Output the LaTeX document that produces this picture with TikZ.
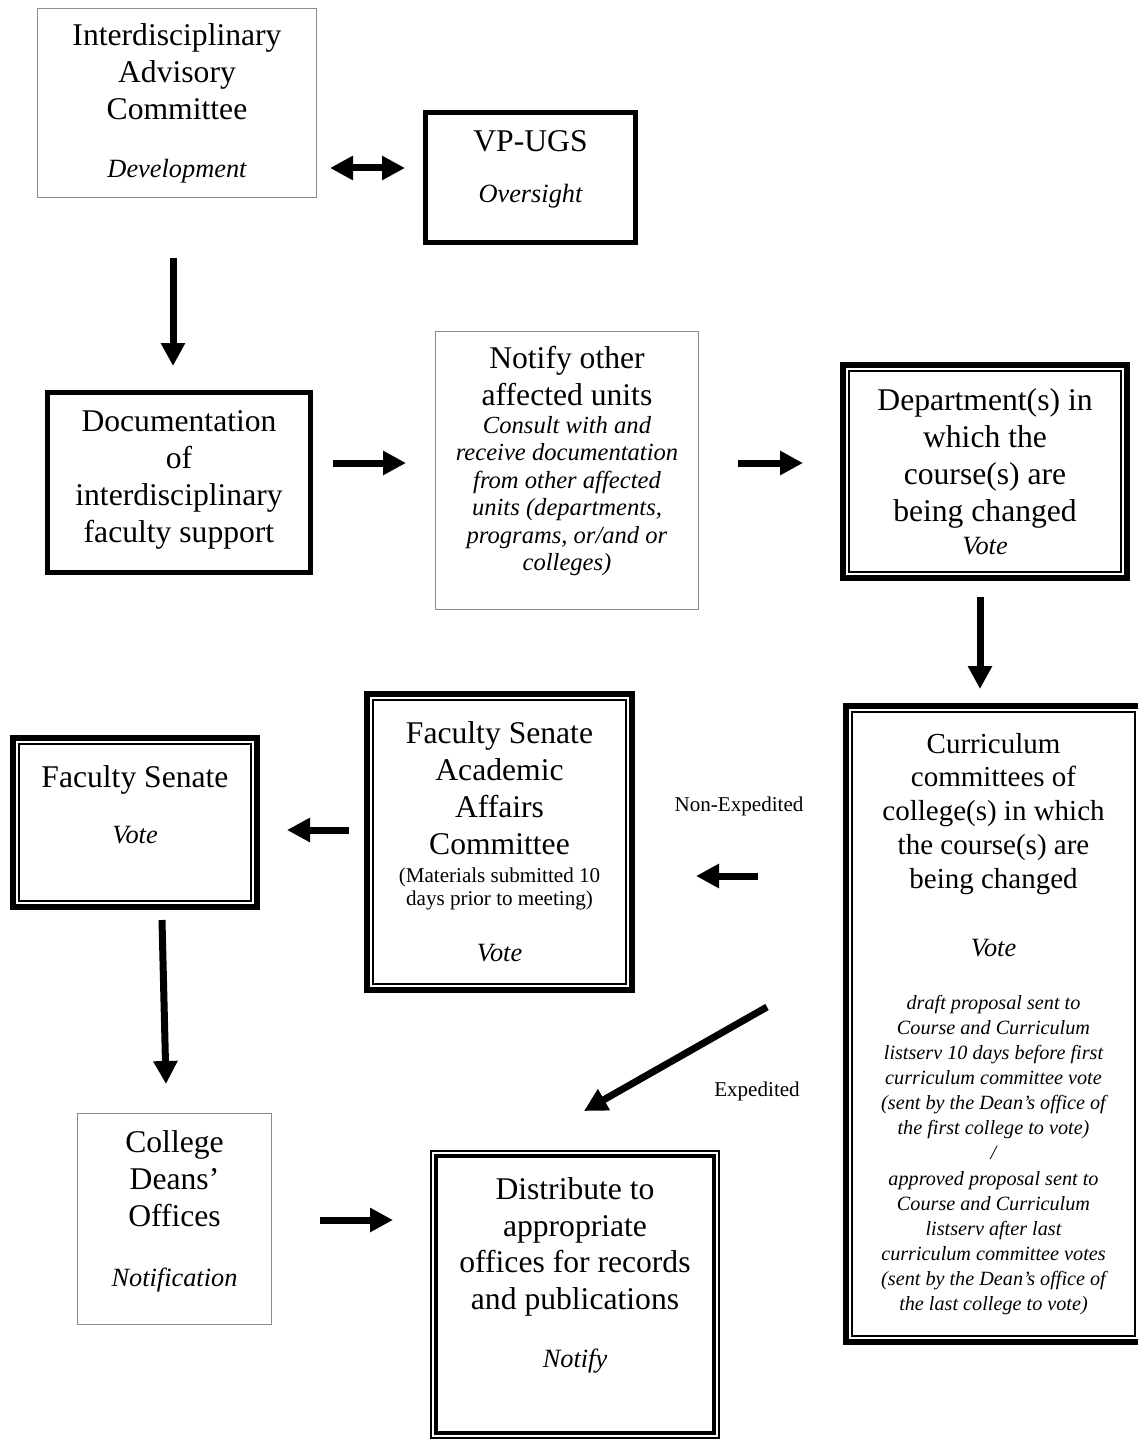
\documentclass[tikz,border=0pt]{standalone}
\usepackage{fontspec}
\setmainfont{Liberation Serif}
\usetikzlibrary{arrows.meta}
\newcommand{\role}[1]{{\itshape\fontsize{15}{18}\selectfont #1}}
\newcommand{\padbelow}[1]{\rule[-#1]{0pt}{#1}}

\begin{document}
\begin{tikzpicture}[x=0.02cm, y=-0.02cm,
    box/.style={rectangle, inner sep=0pt, align=flush center, font=\fontsize{18}{21}\selectfont},
    plainbox/.style={box, draw=black!45, line width=0.6pt},
    heavybox/.style={box, draw, line width=0.1cm},
    thickthin/.style={box, draw, line width=0.12cm},
    thinthick/.style={box, draw, line width=0.04cm},
    bigarrow/.style={line width=0.14cm, -{Triangle[length=0.46cm, width=0.46cm]}},
    twoway/.style={line width=0.14cm, {Triangle[length=0.46cm, width=0.46cm]}-{Triangle[length=0.46cm, width=0.46cm]}},
    flowlabel/.style={font=\fontsize{12}{14}\selectfont}]
  \useasboundingbox (0, 0) rectangle (1137, 1439);

  \node[plainbox, minimum width=5.58cm, minimum height=3.78cm, text width=5cm] (iac) at (177, 103)
    {Interdisciplinary\\Advisory\\Committee\\[12pt]\role{Development}};
  \node[heavybox, minimum width=4.2cm, minimum height=2.6cm, text width=3.8cm] (vp) at (530.5, 177.5)
    {VP-UGS\\[8pt]\role{Oversight}\padbelow{12pt}};
  \node[heavybox, minimum width=5.26cm, minimum height=3.6cm, text width=4.8cm] (doc) at (179, 482.5)
    {Documentation\\of\\interdisciplinary\\faculty support\padbelow{7pt}};
  \node[plainbox, minimum width=5.26cm, minimum height=5.56cm, text width=5cm] (notify) at (567, 470.5)
    {Notify other\\affected units\par\vspace{0.6pt}
     {\itshape\fontsize{14}{15.6}\selectfont Consult with and\\receive documentation\\from other affected\\units (departments,\\programs, or/and or\\colleges)\padbelow{14pt}\par}};
  \node[thickthin, minimum width=5.68cm, minimum height=4.26cm, text width=5.2cm] (dept) at (985, 471.5)
    {Department(s) in\\which the\\course(s) are\\being changed\\[-2.3pt]\role{Vote}};
  \node[thickthin, minimum width=5.9cm, minimum height=12.72cm, text width=5.5cm,
        font=\fontsize{16.5}{19.3}\selectfont] (curr) at (993.5, 1024)
    {Curriculum\\committees of\\college(s) in which\\the course(s) are\\being changed\par
     \vspace{19.3pt}\role{Vote}\par
     \vspace{15.7pt}{\itshape\fontsize{11.5}{14.3}\selectfont draft proposal sent to\\Course and Curriculum\\listserv 10 days before first\\curriculum committee vote\\(sent by the Dean’s office of\\the first college to vote)\\/\\approved proposal sent to\\Course and Curriculum\\listserv after last\\curriculum committee votes\\(sent by the Dean’s office of\\the last college to vote)\par}};
  \node[thickthin, minimum width=5.3cm, minimum height=5.92cm, text width=4.9cm] (fsaac) at (499.5, 842)
    {Faculty Senate\\Academic\\Affairs\\Committee\par\vspace{2.9pt}
     {\fontsize{12}{13}\selectfont (Materials submitted 10\\days prior to meeting)\par}
     \vspace{11.3pt}\role{Vote}};
  \node[thickthin, minimum width=4.88cm, minimum height=3.38cm, text width=4.4cm] (fs) at (135, 822.5)
    {Faculty Senate\\[10.8pt]\role{Vote}\padbelow{20.4pt}};
  \node[plainbox, minimum width=3.88cm, minimum height=4.22cm, text width=3.5cm] (cdo) at (174.5, 1219)
    {College\\Deans’\\Offices\\[13pt]\role{Notification}\padbelow{12pt}};
  \node[thinthick, minimum width=5.76cm, minimum height=5.74cm, text width=5.4cm] (dist) at (575, 1294.5)
    {Distribute to\\appropriate\\offices for records\\and publications\\[12pt]\role{Notify}\padbelow{25pt}};

  \foreach \n in {dept, curr, fsaac, fs}
    \draw[line width=0.04cm] ([shift={(9, 9)}]\n.north west) rectangle ([shift={(-9, -9)}]\n.south east);
  \draw[line width=0.08cm] ([shift={(6, 6)}]dist.north west) rectangle ([shift={(-6, -6)}]dist.south east);

  \node[flowlabel] (nonexp) at (739, 806) {Non-Expedited};
  \node[flowlabel] (exp) at (757, 1091) {Expedited};

  \coordinate (s1) at (330, 168);   \coordinate (e1) at (405, 168);
  \coordinate (s2) at (173, 258);   \coordinate (e2) at (173, 366);
  \coordinate (s3) at (333, 463);   \coordinate (e3) at (406, 463);
  \coordinate (s4) at (738, 463);   \coordinate (e4) at (803, 463);
  \coordinate (s5) at (980, 597);   \coordinate (e5) at (980, 689);
  \coordinate (s6) at (758, 876);   \coordinate (e6) at (696, 876);
  \coordinate (s7) at (349, 830);   \coordinate (e7) at (287, 830);
  \coordinate (s8) at (162, 920);   \coordinate (e8) at (166, 1084);
  \coordinate (s9) at (320, 1220);  \coordinate (e9) at (393, 1220);
  \coordinate (s10) at (767, 1007); \coordinate (e10) at (584, 1111);

  \draw[twoway] (s1) -- (e1);
  \draw[bigarrow] (s2) -- (e2);
  \draw[bigarrow] (s3) -- (e3);
  \draw[bigarrow] (s4) -- (e4);
  \draw[bigarrow] (s5) -- (e5);
  \draw[bigarrow] (s6) -- (e6);
  \draw[bigarrow] (s7) -- (e7);
  \draw[bigarrow] (s8) -- (e8);
  \draw[bigarrow] (s9) -- (e9);
  \draw[bigarrow] (s10) -- (e10);
\end{tikzpicture}
\end{document}
